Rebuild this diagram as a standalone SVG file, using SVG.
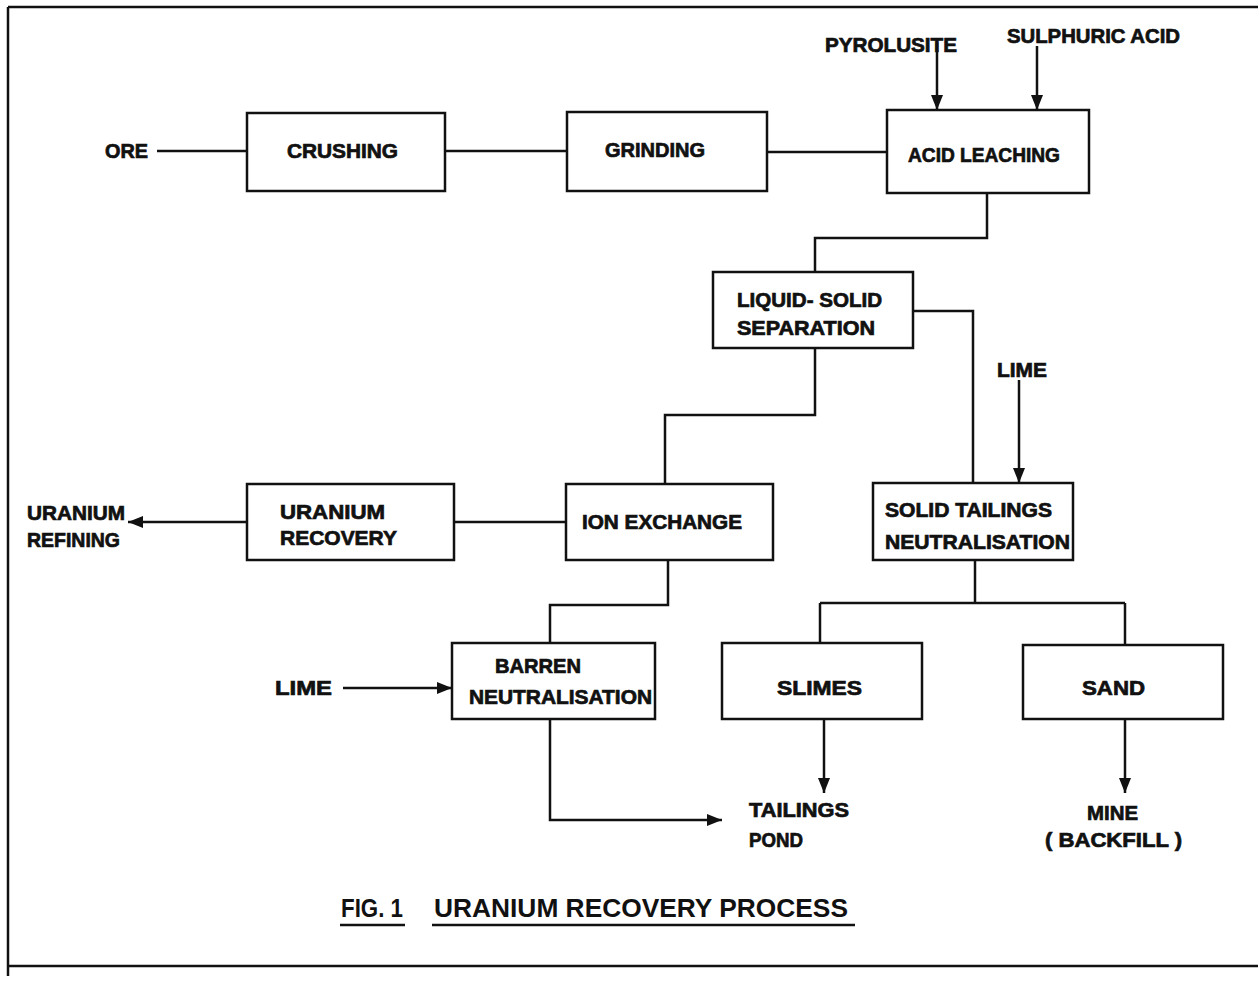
<svg xmlns="http://www.w3.org/2000/svg" width="1258" height="982" viewBox="0 0 1258 982">
<style>
.box{fill:#fff;stroke:#111;stroke-width:2.5}
.ln{fill:none;stroke:#111;stroke-width:2.5}
.t{font-family:"Liberation Sans",Arial,sans-serif;font-weight:bold;font-size:20px;fill:#111;stroke:#111;stroke-width:0.7}
.cap{font-family:"Liberation Sans",Arial,sans-serif;font-weight:bold;font-size:25px;fill:#111}
</style>
<defs>
<marker id="ah" markerUnits="userSpaceOnUse" markerWidth="16" markerHeight="12" refX="15" refY="6" orient="auto">
<path d="M0,0 L15,6 L0,12 z" fill="#111"/>
</marker>
</defs>
<rect width="1258" height="982" fill="#fff"/>
<g id="frame" class="ln">
<path d="M8,7 H1258 M8,7 V976 M8,966 H1258"/>
</g>
<g id="connectors" class="ln">
<path d="M157,151 H247"/>
<path d="M445,151 H567"/>
<path d="M767,152 H887"/>
<path d="M937,43 V110" marker-end="url(#ah)"/>
<path d="M1037,46 V110" marker-end="url(#ah)"/>
<path d="M987,193 V238 H815 V272"/>
<path d="M913,311 H973 V483"/>
<path d="M1019,380 V483" marker-end="url(#ah)"/>
<path d="M815,348 V415 H665 V484"/>
<path d="M566,522 H454"/>
<path d="M247,522 H128" marker-end="url(#ah)"/>
<path d="M668,560 V605 H550 V643"/>
<path d="M343,688 H452" marker-end="url(#ah)"/>
<path d="M550,719 V820 H722" marker-end="url(#ah)"/>
<path d="M975,560 V603"/>
<path d="M820,603 H1125"/>
<path d="M820,603 V643"/>
<path d="M1125,603 V645"/>
<path d="M824,719 V793" marker-end="url(#ah)"/>
<path d="M1125,719 V793" marker-end="url(#ah)"/>
</g>
<g id="ore"><text class="t" x="105" y="158" textLength="43" lengthAdjust="spacingAndGlyphs">ORE</text></g>
<g id="crushing"><rect class="box" x="247" y="113" width="198" height="78"/>
<text class="t" x="287" y="158" textLength="111" lengthAdjust="spacingAndGlyphs">CRUSHING</text></g>
<g id="grinding"><rect class="box" x="567" y="112" width="200" height="79"/>
<text class="t" x="605" y="157" textLength="100" lengthAdjust="spacingAndGlyphs">GRINDING</text></g>
<g id="acid-leaching"><rect class="box" x="887" y="110" width="202" height="83"/>
<text class="t" x="908" y="162" textLength="152" lengthAdjust="spacingAndGlyphs">ACID LEACHING</text></g>
<g id="pyrolusite"><text class="t" x="825" y="52" textLength="132" lengthAdjust="spacingAndGlyphs">PYROLUSITE</text></g>
<g id="sulphuric-acid"><text class="t" x="1007" y="43" textLength="173" lengthAdjust="spacingAndGlyphs">SULPHURIC ACID</text></g>
<g id="liquid-solid"><rect class="box" x="713" y="272" width="200" height="76"/>
<text class="t" x="737" y="307" textLength="145" lengthAdjust="spacingAndGlyphs">LIQUID- SOLID</text>
<text class="t" x="737" y="335" textLength="138" lengthAdjust="spacingAndGlyphs">SEPARATION</text></g>
<g id="lime-1"><text class="t" x="997" y="377" textLength="50" lengthAdjust="spacingAndGlyphs">LIME</text></g>
<g id="solid-tailings"><rect class="box" x="873" y="483" width="200" height="77"/>
<text class="t" x="885" y="517" textLength="167" lengthAdjust="spacingAndGlyphs">SOLID TAILINGS</text>
<text class="t" x="885" y="549" textLength="185" lengthAdjust="spacingAndGlyphs">NEUTRALISATION</text></g>
<g id="ion-exchange"><rect class="box" x="566" y="484" width="207" height="76"/>
<text class="t" x="582" y="529" textLength="160" lengthAdjust="spacingAndGlyphs">ION EXCHANGE</text></g>
<g id="uranium-recovery"><rect class="box" x="247" y="484" width="207" height="76"/>
<text class="t" x="280" y="519" textLength="105" lengthAdjust="spacingAndGlyphs">URANIUM</text>
<text class="t" x="280" y="545" textLength="117" lengthAdjust="spacingAndGlyphs">RECOVERY</text></g>
<g id="uranium-refining"><text class="t" x="27" y="520" textLength="98" lengthAdjust="spacingAndGlyphs">URANIUM</text>
<text class="t" x="27" y="547" textLength="93" lengthAdjust="spacingAndGlyphs">REFINING</text></g>
<g id="barren"><rect class="box" x="452" y="643" width="203" height="76"/>
<text class="t" x="495" y="673" textLength="86" lengthAdjust="spacingAndGlyphs">BARREN</text>
<text class="t" x="469" y="704" textLength="183" lengthAdjust="spacingAndGlyphs">NEUTRALISATION</text></g>
<g id="lime-2"><text class="t" x="275" y="695" textLength="57" lengthAdjust="spacingAndGlyphs">LIME</text></g>
<g id="slimes"><rect class="box" x="722" y="643" width="200" height="76"/>
<text class="t" x="777" y="695" textLength="85" lengthAdjust="spacingAndGlyphs">SLIMES</text></g>
<g id="sand"><rect class="box" x="1023" y="645" width="200" height="74"/>
<text class="t" x="1082" y="695" textLength="63" lengthAdjust="spacingAndGlyphs">SAND</text></g>
<g id="tailings-pond"><text class="t" x="749" y="817" textLength="100" lengthAdjust="spacingAndGlyphs">TAILINGS</text>
<text class="t" x="749" y="847" textLength="54" lengthAdjust="spacingAndGlyphs">POND</text></g>
<g id="mine"><text class="t" x="1087" y="820" textLength="51" lengthAdjust="spacingAndGlyphs">MINE</text>
<text class="t" x="1045" y="847" textLength="137" lengthAdjust="spacingAndGlyphs">( BACKFILL )</text></g>
<g id="caption">
<text class="cap" x="341" y="917" textLength="62" lengthAdjust="spacingAndGlyphs">FIG. 1</text>
<text class="cap" x="434" y="917" textLength="414" lengthAdjust="spacingAndGlyphs">URANIUM RECOVERY PROCESS</text>
<path class="ln" d="M340,925 H405 M432,925 H855"/>
</g>
</svg>
